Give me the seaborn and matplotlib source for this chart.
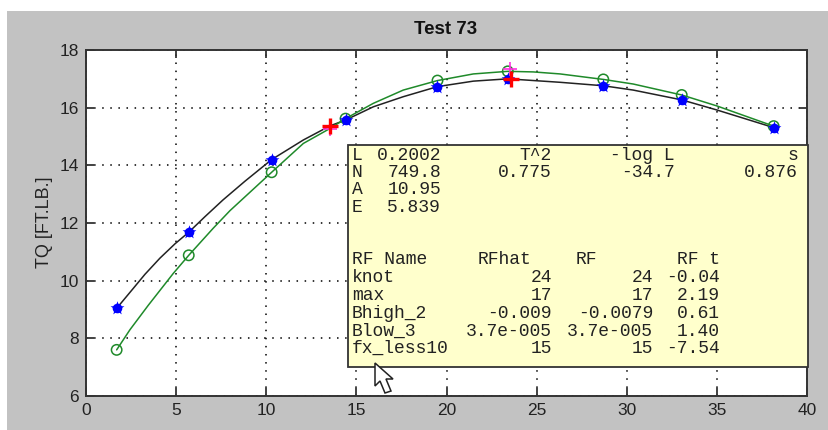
import matplotlib
matplotlib.use("Agg")
import matplotlib.pyplot as plt
from matplotlib.patches import Rectangle, Polygon
import seaborn as sns

# fitted curves
black_x = [1.7, 2.62, 3.27, 4.1, 4.94, 5.7, 6.6, 7.6, 8.82, 10.3, 12.06, 13.54, 14.4,
           15.94, 17.6, 19.5, 21.49, 23.4, 26.3, 28.7, 30.36, 33.05, 35.0, 38.15]
black_y = [9.04, 9.73, 10.22, 10.78, 11.28, 11.68, 12.22, 12.8, 13.45, 14.2, 14.88, 15.37, 15.57,
           16.03, 16.38, 16.73, 16.92, 17.0, 16.88, 16.76, 16.61, 16.27, 15.92, 15.31]
green_x = [1.7, 2.44, 3.46, 4.1, 4.84, 5.7, 7.06, 7.99, 10.3, 12.06, 13.54, 14.4,
           15.94, 17.6, 19.5, 21.49, 23.4, 24.81, 26.3, 28.7, 30.36, 33.05, 35.0, 38.15]
green_y = [7.6, 8.3, 9.15, 9.66, 10.25, 10.88, 11.82, 12.43, 13.76, 14.76, 15.28, 15.62,
           16.15, 16.61, 16.94, 17.17, 17.26, 17.24, 17.17, 16.98, 16.82, 16.44, 16.06, 15.36]

# measured points
point_x = [1.7, 5.7, 10.3, 14.4, 19.5, 23.4, 28.7, 33.05, 38.15]
blue_y = [9.04, 11.68, 14.2, 15.57, 16.73, 17.0, 16.76, 16.27, 15.31]
green_pt_y = [7.6, 10.88, 13.76, 15.62, 16.94, 17.26, 16.98, 16.44, 15.36]

red_x = [13.55, 23.6]
red_y = [15.37, 17.0]
magenta_x = [13.55, 23.55]
magenta_y = [15.27, 17.33]

x_ticks = [0, 5, 10, 15, 20, 25, 30, 35, 40]
y_ticks = [6, 8, 10, 12, 14, 16, 18]

# text box contents
param_names = ["L", "N", "A", "E"]
param_values = ["0.2002", "749.8", "10.95", "5.839"]
stat_names = ["T^2", "-log L", "s"]
stat_values = ["0.775", "-34.7", "0.876"]
rf_header = ["RF Name", "RFhat", "RF", "RF t"]
rf_names = ["knot", "max", "Bhigh_2", "Blow_3", "fx_less10"]
rf_hat = ["24", "17", "-0.009", "3.7e-005", "15"]
rf_val = ["24", "17", "-0.0079", "3.7e-005", "15"]
rf_t = ["-0.04", "2.19", "0.61", "1.40", "-7.54"]

W, H = 829, 430

sns.set_theme(style="white")
plt.rcParams["font.family"] = ["Liberation Sans", "DejaVu Sans"]


def fx(px):
    return px / W


def fy(py):
    return 1 - py / H


fig = plt.figure(figsize=(W / 100, H / 100), dpi=100, facecolor="white")
fig.add_artist(Rectangle((fx(7), 0), 1 - fx(7), fy(11), transform=fig.transFigure,
                         facecolor="#c2c2c2", edgecolor="none", zorder=-1))

ax = fig.add_axes([fx(86), fy(396), fx(807 - 86), (396 - 50) / H])
ax.set_facecolor("white")

sns.lineplot(x=black_x, y=black_y, color="#222222", linewidth=1.1, estimator=None, sort=False, ax=ax, zorder=3)
sns.lineplot(x=green_x, y=green_y, color="#1f8a2a", linewidth=1.1, estimator=None, sort=False, ax=ax, zorder=4)
sns.scatterplot(x=point_x, y=green_pt_y, marker="o", s=56, facecolor="none", edgecolor="#1f8a2a",
                linewidth=1.1, ax=ax, zorder=4)
sns.scatterplot(x=point_x, y=blue_y, marker="o", s=48, color="#0000ff", linewidth=0, ax=ax, zorder=5)
sns.scatterplot(x=point_x, y=blue_y, marker="*", s=110, color="#0000ff", linewidth=0, ax=ax, zorder=5)
sns.scatterplot(x=magenta_x, y=magenta_y, marker="+", s=110, color="#ff30e0", linewidth=1.2, ax=ax, zorder=6)
sns.scatterplot(x=red_x, y=red_y, marker="+", s=130, color="#ff0000", linewidth=2.4, ax=ax, zorder=7)

ax.set_xlim(0, 40)
ax.set_ylim(6, 18)
ax.set_xticks(x_ticks)
ax.set_yticks(y_ticks)
ax.grid(True, color="black", linewidth=1.1, linestyle=(0, (1, 4.3)))
ax.set_axisbelow(True)
ax.tick_params(direction="in", length=6, width=1.3, color="#333333", top=True, right=True,
               left=True, bottom=True, labelsize=12.5, labelcolor="#222222", pad=5)
for spine in ax.spines.values():
    spine.set_color("#333333")
    spine.set_linewidth(1.4)

fig.text(fx(446), fy(29), "Test 73", ha="center", va="center", fontsize=13.5, fontweight="bold", color="#111111")
fig.text(fx(45), fy(222), "TQ [FT.LB.]", ha="center", va="center", rotation=90, fontsize=13, color="#222222")

# yellow box
fig.add_artist(Rectangle((fx(348), fy(367)), fx(808 - 348), (367 - 145) / H, transform=fig.transFigure,
                         facecolor="#ffffcc", edgecolor="#333333", linewidth=1.3, zorder=2))


def cell(px, py, s, ha="left"):
    fig.text(fx(px), fy(py), s, ha=ha, va="center", fontsize=13, family="Liberation Mono",
             color="#222222", zorder=3)


top_rows = [155, 172.5, 190, 207.5]
for row, name, val in zip(top_rows, param_names, param_values):
    cell(352, row, name)
    cell(441, row, val, ha="right")
for col, name, val in zip([552, 675, 798], stat_names, stat_values):
    cell(col, top_rows[0], name, ha="right")
    cell(col, top_rows[1], val, ha="right")

cell(352, 260, rf_header[0])
cell(531, 260, rf_header[1], ha="right")
cell(597, 260, rf_header[2], ha="right")
cell(720, 260, rf_header[3], ha="right")
rf_rows = [278, 295.5, 313, 331, 348.5]
for row, name, hat, val, t in zip(rf_rows, rf_names, rf_hat, rf_val, rf_t):
    cell(352, row, name)
    cell(552, row, hat, ha="right")
    cell(653, row, val, ha="right")
    cell(720, row, t, ha="right")

# mouse pointer
cursor_px = [(375, 363), (375, 386), (380, 381), (385, 393), (391, 391), (386, 379), (393, 379)]
fig.add_artist(Polygon([(fx(a), fy(b)) for a, b in cursor_px], closed=True, transform=fig.transFigure,
                       facecolor="white", edgecolor="#222222", linewidth=1.1, zorder=5))

fig.savefig("out.png", dpi=100)
